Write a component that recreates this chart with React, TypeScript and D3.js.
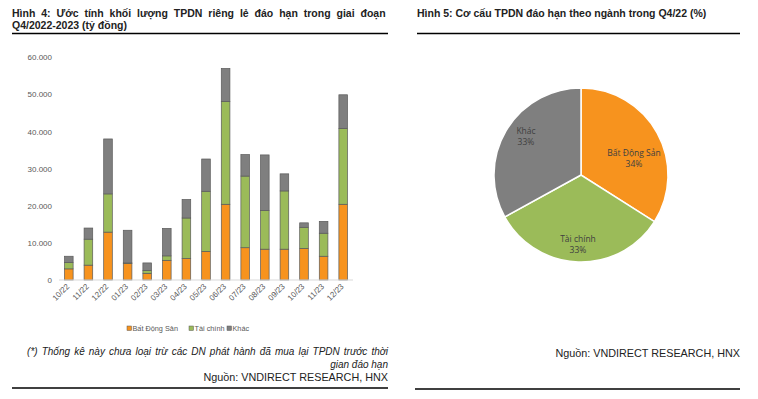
import React from "react";
import * as d3 from "d3";

// monthly maturity volume (ty dong)
const months = ["10/22", "11/22", "12/22", "01/23", "02/23", "03/23", "04/23", "05/23", "06/23", "07/23", "08/23", "09/23", "10/23", "11/23", "12/23"];
const batDongSan = [3000, 4000, 12900, 4500, 1800, 5300, 5800, 7700, 20400, 8700, 8300, 8300, 8500, 6400, 20400];
const taiChinh = [1700, 7000, 10300, 100, 800, 1200, 10900, 16200, 27700, 19300, 10400, 15700, 5700, 6200, 20400];
const khac = [1700, 3000, 14800, 8800, 2000, 7400, 5000, 8700, 8900, 5800, 15000, 4600, 1200, 3200, 9100];
const yTicks = [0, 10000, 20000, 30000, 40000, 50000, 60000];

// pie for Q4/22
const pieLabels = ["Bất Động Sản", "Tài chính", "Khác"];
const pieValues = [34, 33, 33];

const seriesNames = ["Bất Động Sản", "Tài chính", "Khác"];
const colors = ["#F7931E", "#9BBB59", "#7F7F7F"];

const FONT = "'Liberation Sans', Arial, sans-serif";

export default function App() {
  const W = 758;
  const H = 399;

  // bar chart area
  const x0 = 59, x1 = 353, yTop = 57.3, yBase = 280;
  const x = d3.scaleBand<string>().domain(months).range([x0, x1]).paddingInner(0.56).paddingOuter(0.28);
  const y = d3.scaleLinear().domain([0, 60000]).range([yBase, yTop]);

  const rows = months.map((m, i) => ({ m, b: batDongSan[i], t: taiChinh[i], k: khac[i] }));
  const stack = d3.stack<any>().keys(["b", "t", "k"])(rows);

  const fmt = (v: number) => d3.format(",")(v).replace(/,/g, ".");

  // pie
  const cx = 581, cy = 175, r = 87;
  const pie = d3.pie<number>().sort(null).value((d) => d)(pieValues);
  const arc = d3.arc<any>().innerRadius(0).outerRadius(r);
  const pieLabelPos = [[634, 153], [578, 239], [526, 131]];

  const legendX = [127, 189, 227];

  return (
    <svg width={W} height={H} style={{ position: "absolute", left: 0, top: 0 }} fontFamily={FONT}>
      <rect width={W} height={H} fill="#fff" />

      {/* left title (justified first line) */}
      <text x={12} y={17} fontSize={10.5} fontWeight="bold" fill="#222" wordSpacing={3}>Hình 4: Ước tính khối lượng TPDN riêng lẻ đáo hạn trong giai đoạn</text>
      <text x={12} y={28.5} fontSize={10.5} fontWeight="bold" fill="#222">Q4/2022-2023 (tỷ đồng)</text>
      <line x1={12} x2={388} y1={33.5} y2={33.5} stroke="#000" strokeWidth={1.3} />

      {/* y axis labels */}
      {yTicks.map((t) => (
        <text key={t} x={52} y={y(t) + 3} fontSize={8} fill="#595959" textAnchor="end">{fmt(t)}</text>
      ))}

      {/* bars */}
      {stack.map((s, si) =>
        s.map((d, i) => (
          <rect
            key={si + "-" + i}
            x={x(months[i])}
            width={x.bandwidth()}
            y={y(d[1])}
            height={Math.max(0, y(d[0]) - y(d[1]))}
            fill={colors[si]}
            stroke="#5a5a5a"
            strokeWidth={0.7}
          />
        ))
      )}
      <line x1={x0} x2={x1} y1={yBase} y2={yBase} stroke="#d9d9d9" strokeWidth={1} />

      {/* x labels */}
      {months.map((m) => {
        const c = (x(m) ?? 0) + x.bandwidth() / 2;
        return (
          <text key={m} fontSize={8} fill="#595959" textAnchor="end" transform={`translate(${c + 1},${287}) rotate(-45)`}>{m}</text>
        );
      })}

      {/* legend */}
      {seriesNames.map((n, i) => (
        <g key={n}>
          <rect x={legendX[i]} y={326} width={4.5} height={4.5} fill={colors[i]} stroke="#5a5a5a" strokeWidth={0.5} />
          <text x={legendX[i] + 5.5} y={331} fontSize={7.3} fill="#595959">{n}</text>
        </g>
      ))}

      {/* footnote and source */}
      <text x={388} y={355} fontSize={10} fontStyle="italic" fill="#222" textAnchor="end" wordSpacing={1.3}>(*) Thống kê này chưa loại trừ các DN phát hành đã mua lại TPDN trước thời</text>
      <text x={388} y={367.5} fontSize={10} fontStyle="italic" fill="#222" textAnchor="end">gian đáo hạn</text>
      <text x={388} y={381} fontSize={10.8} fill="#222" textAnchor="end">Nguồn: VNDIRECT RESEARCH, HNX</text>
      <line x1={12} x2={388} y1={388} y2={388} stroke="#000" strokeWidth={1.3} />

      {/* right title */}
      <text x={417} y={17} fontSize={10.5} fontWeight="bold" fill="#222">Hình 5: Cơ cấu TPDN đáo hạn theo ngành trong Q4/22 (%)</text>
      <line x1={417} x2={740} y1={33.5} y2={33.5} stroke="#000" strokeWidth={1.3} />

      {/* pie */}
      <g transform={`translate(${cx},${cy})`}>
        {pie.map((p, i) => (
          <path key={i} d={arc(p) ?? ""} fill={colors[i]} stroke="#fff" strokeWidth={1.5} />
        ))}
      </g>
      {pie.map((p, i) => (
        <g key={"l" + i} fontSize={8.5} fill="#404040" textAnchor="middle" fontFamily="'Open Sans', sans-serif">
          <text x={pieLabelPos[i][0]} y={pieLabelPos[i][1] + 3}>{pieLabels[i]}</text>
          <text x={pieLabelPos[i][0]} y={pieLabelPos[i][1] + 14}>{pieValues[i]}%</text>
        </g>
      ))}

      <text x={740} y={357} fontSize={10.8} fill="#222" textAnchor="end">Nguồn: VNDIRECT RESEARCH, HNX</text>
      <line x1={415} x2={740} y1={389} y2={389} stroke="#000" strokeWidth={1.3} />
    </svg>
  );
}
